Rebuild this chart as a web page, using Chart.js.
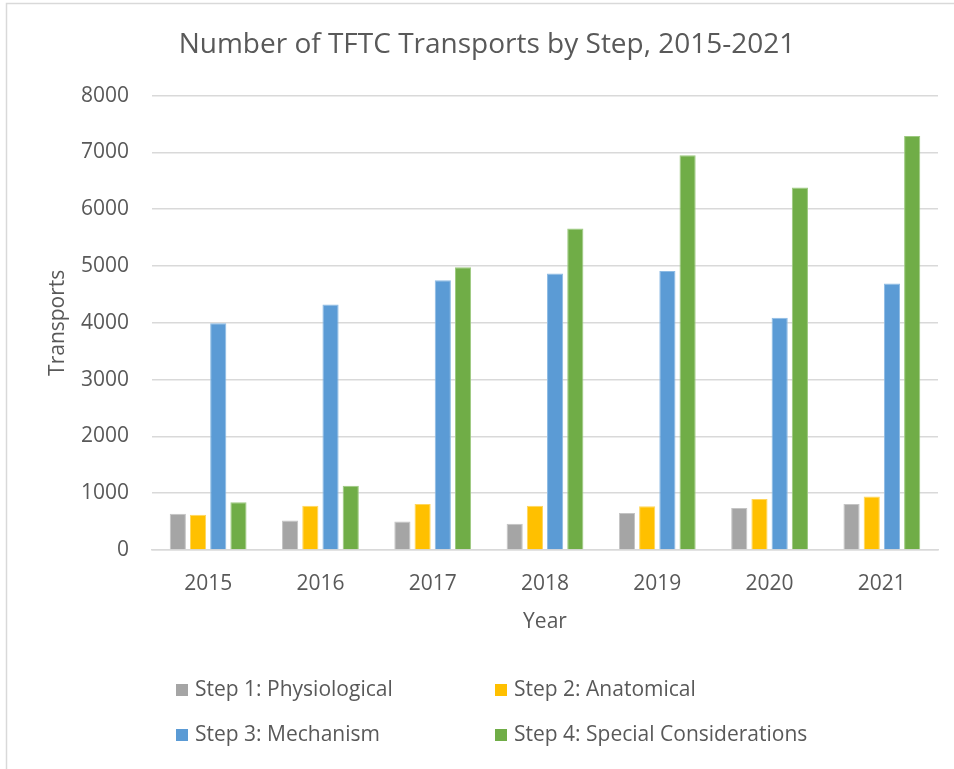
<!DOCTYPE html>
<html>
<head>
<meta charset="utf-8">
<script src="https://cdn.jsdelivr.net/npm/chart.js@4.4.1/dist/chart.umd.min.js"></script>
<style>
  html, body { margin: 0; padding: 0; background: #ffffff; }
  #wrap { width: 954px; height: 769px; }
</style>
</head>
<body>
<div id="wrap"><canvas id="c" width="954" height="769"></canvas></div>
<script>
const years = ['2015', '2016', '2017', '2018', '2019', '2020', '2021'];
const seriesNames = ['Step 1: Physiological', 'Step 2: Anatomical', 'Step 3: Mechanism', 'Step 4: Special Considerations'];
const step1 = [640, 520, 500, 460, 650, 740, 810];
const step2 = [620, 780, 810, 780, 770, 900, 940];
const step3 = [3990, 4320, 4750, 4870, 4910, 4090, 4690];
const step4 = [840, 1130, 4980, 5660, 6950, 6380, 7290];
const yTicks = [0, 1000, 2000, 3000, 4000, 5000, 6000, 7000, 8000];
const colors = ['#a5a5a5', '#ffc000', '#5b9bd5', '#70ad47'];
const edgeColors = ['#c4c4c4', '#ffd65c', '#8dbbe4', '#9cc97f'];

const textColor = '#595959';
const fontFamily = "'Open Sans', 'Liberation Sans', sans-serif";

const seriesValues = [step1, step2, step3, step4];
const datasets = seriesValues.map((vals, i) => ({
  label: seriesNames[i],
  data: vals,
  backgroundColor: colors[i],
  borderColor: edgeColors[i],
  borderWidth: 1,
  categoryPercentage: 0.72,
  barPercentage: 0.8
}));

const frame = {
  id: 'frame',
  beforeDraw(chart) {
    const ctx = chart.ctx;
    ctx.save();
    ctx.fillStyle = '#ffffff';
    ctx.fillRect(0, 0, chart.width, chart.height);
    ctx.strokeStyle = '#d9d9d9';
    ctx.lineWidth = 1.5;
    ctx.beginPath();
    ctx.moveTo(6.5, chart.height + 5);
    ctx.lineTo(6.5, 3.5);
    ctx.lineTo(chart.width + 5, 3.5);
    ctx.stroke();
    ctx.restore();
  }
};

const gridLegend = {
  id: 'gridLegend',
  afterDraw(chart) {
    const ctx = chart.ctx;
    const cols = [176, 495];
    const rows = [690, 735];
    ctx.save();
    ctx.font = '21px ' + fontFamily;
    ctx.textBaseline = 'middle';
    ctx.textAlign = 'left';
    chart.data.datasets.forEach((ds, i) => {
      const x = cols[i % 2];
      const y = rows[Math.floor(i / 2)];
      ctx.fillStyle = ds.backgroundColor;
      ctx.fillRect(x, y - 6, 12, 12);
      ctx.fillStyle = textColor;
      ctx.fillText(ds.label, x + 19, y);
    });
    ctx.restore();
  }
};

new Chart(document.getElementById('c'), {
  type: 'bar',
  data: { labels: years, datasets: datasets },
  plugins: [frame, gridLegend],
  options: {
    responsive: false,
    animation: false,
    devicePixelRatio: 1,
    layout: { padding: { left: 36, right: 16, top: 0, bottom: 129 } },
    plugins: {
      legend: { display: false },
      tooltip: { enabled: false },
      title: {
        display: true,
        text: 'Number of TFTC Transports by Step, 2015-2021',
        color: textColor,
        font: { family: fontFamily, size: 28, weight: 'normal' },
        padding: { top: 28, bottom: 34 }
      }
    },
    scales: {
      x: {
        grid: { display: false, drawTicks: false },
        border: { display: true, color: '#d9d9d9', width: 1.5 },
        ticks: { color: textColor, font: { family: fontFamily, size: 21 }, padding: 21 },
        title: {
          display: true, text: 'Year', color: textColor,
          font: { family: fontFamily, size: 21 },
          padding: { top: 0, bottom: 5 }
        },
        afterFit(scale) { scale.height = 90; }
      },
      y: {
        min: 0,
        max: 8000,
        afterBuildTicks(scale) { scale.ticks = yTicks.map(v => ({ value: v })); },
        grid: { color: '#d9d9d9', lineWidth: 1.5, drawTicks: false },
        border: { display: false },
        ticks: {
          color: textColor, font: { family: fontFamily, size: 21 }, padding: 23,
          callback: (v) => String(v)
        },
        title: {
          display: true, text: 'Transports', color: textColor,
          font: { family: fontFamily, size: 21 },
          padding: { top: 9, bottom: 0 }
        },
        afterFit(scale) { scale.width = 116; }
      }
    }
  }
});
</script>
</body>
</html>
